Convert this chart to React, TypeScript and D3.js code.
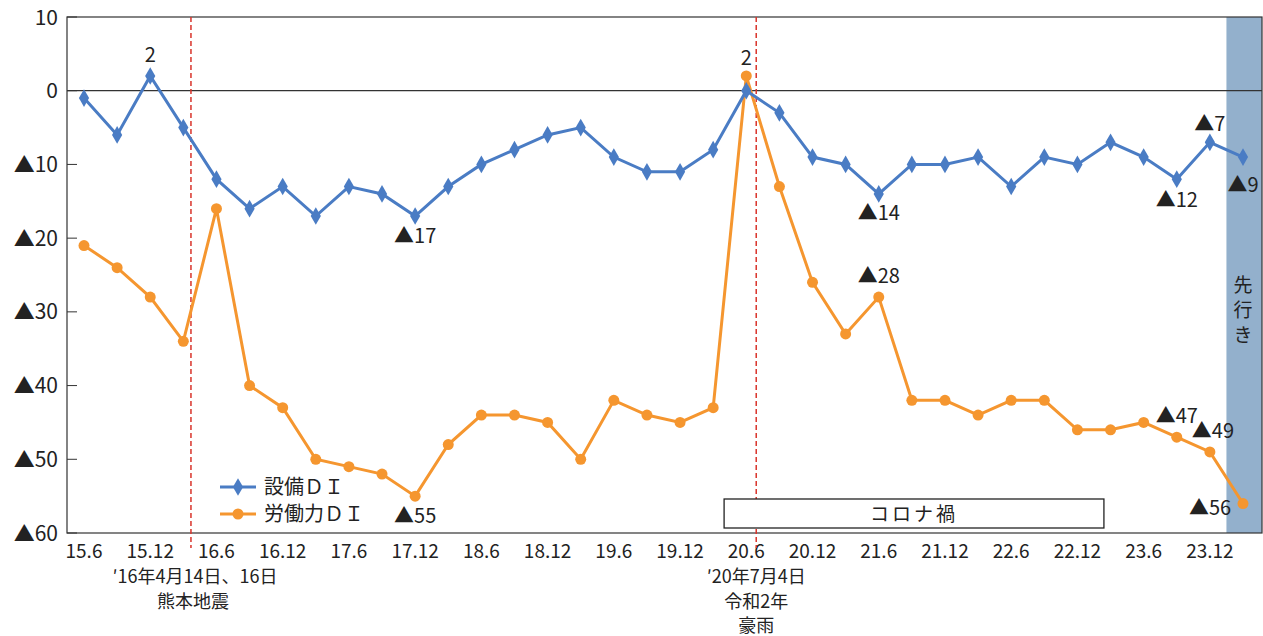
import * as d3 from 'd3'

const periods = [
    '15.6', '15.9', '15.12', '16.3', '16.6', '16.9', '16.12', '17.3', '17.6', '17.9', '17.12', '18.3',
    '18.6', '18.9', '18.12', '19.3', '19.6', '19.9', '19.12', '20.3', '20.6', '20.9', '20.12', '21.3',
    '21.6', '21.9', '21.12', '22.3', '22.6', '22.9', '22.12', '23.3', '23.6', '23.9', '23.12', '24.3',
]
const equipmentDI = [
    -1, -6, 2, -5, -12, -16, -13, -17, -13, -14, -17, -13,
    -10, -8, -6, -5, -9, -11, -11, -8, 0, -3, -9, -10,
    -14, -10, -10, -9, -13, -9, -10, -7, -9, -12, -7, -9,
]
const laborDI = [
    -21, -24, -28, -34, -16, -40, -43, -50, -51, -52, -55, -48,
    -44, -44, -45, -50, -42, -44, -45, -43, 2, -13, -26, -33,
    -28, -42, -42, -44, -42, -42, -46, -46, -45, -47, -49, -56,
]
const yTicks = [10, 0, -10, -20, -30, -40, -50, -60]
// annotations: [series, index, text, dx, dy]
const notes: [string, number, string, number, number][] = [
    ['eq', 2, '2', 0, -21],
    ['eq', 10, '▲17', 0, 20],
    ['eq', 20, '2', 0, -33],
    ['eq', 24, '▲14', 0, 19],
    ['eq', 33, '▲12', 0, 21],
    ['eq', 34, '▲7', 0, -19],
    ['eq', 35, '▲9', 0, 28],
    ['lab', 24, '▲28', 0, -21],
    ['lab', 10, '▲55', 0, 20],
    ['lab', 33, '▲47', 0, -21],
    ['lab', 34, '▲49', 3, -21],
    ['lab', 35, '▲56', -33, 4],
]

const BLUE = '#4a7cc4'
const ORANGE = '#f5962f'
const FONT = '"Noto Sans CJK JP", "Noto Sans", sans-serif'

const App = () => {
    const left = 67
    const right = 1262
    const top = 17
    const bottom = 533

    const x = d3.scaleLinear().domain([0, periods.length - 1]).range([84, 1243])
    const y = d3.scaleLinear().domain([-60, 10]).range([bottom, top])

    const line = d3.line<number>().x((_, i) => x(i)).y(d => y(d))
    const diamond = d3.symbol().type(d3.symbolDiamond).size(90)()

    const fmt = (v: number) => (v < 0 ? '▲' + Math.abs(v) : String(v))

    return (
        <svg width={1263} height={636} style={{ position: 'absolute', left: 0, top: 0, fontFamily: FONT }}>
            <rect x={0} y={0} width={1263} height={636} fill="#fff" />
            {/* forecast band */}
            <rect x={x(34.5)} y={top} width={right - x(34.5)} height={bottom - top} fill="#93b0cc" />
            {['先', '行', 'き'].map((c, i) => (
                <text key={c} x={x(35)} y={292 + i * 25} fontSize={19} fill="#222" textAnchor="middle">{c}</text>
            ))}
            {/* frame */}
            <rect x={left} y={top} width={right - left} height={bottom - top} fill="none" stroke="#333" strokeWidth={1.2} />
            <line x1={left} x2={right} y1={y(0)} y2={y(0)} stroke="#333" strokeWidth={1.2} />
            {yTicks.map(t => (
                <g key={t}>
                    <line x1={left} x2={left + 10} y1={y(t)} y2={y(t)} stroke="#333" />
                    <text x={58} y={y(t)} dy="0.36em" textAnchor="end" fontSize={21} fill="#222">{fmt(t)}</text>
                </g>
            ))}
            {periods.map((p, i) => i % 2 === 0 && (
                <text key={p} x={x(i)} y={558} textAnchor="middle" fontSize={19} fill="#222">{p}</text>
            ))}
            {/* event lines */}
            {[3.23, 20.3].map(v => (
                <line key={v} x1={x(v)} x2={x(v)} y1={top} y2={548} stroke="#d9342b" strokeWidth={1.5} strokeDasharray="5,3" />
            ))}
            <text x={x(3.23) + 4} y={583} textAnchor="middle" fontSize={18} fill="#222">′16年4月14日、16日</text>
            <text x={x(3.23) + 2} y={608} textAnchor="middle" fontSize={18} fill="#222">熊本地震</text>
            <text x={x(20) + 10} y={583} textAnchor="middle" fontSize={18} fill="#222">′20年7月4日</text>
            <text x={x(20) + 10} y={608} textAnchor="middle" fontSize={18} fill="#222">令和2年</text>
            <text x={x(20) + 10} y={632} textAnchor="middle" fontSize={18} fill="#222">豪雨</text>
            {/* corona box */}
            <rect x={x(19.33)} y={499} width={x(30.8) - x(19.33)} height={29} fill="#fff" stroke="#222" strokeWidth={1.3} />
            <text x={(x(19.33) + x(30.8)) / 2} y={514} dy="0.36em" textAnchor="middle" fontSize={19} fill="#222" letterSpacing={3}>コロナ禍</text>
            {/* series */}
            <path d={line(laborDI) || ''} fill="none" stroke={ORANGE} strokeWidth={3} />
            {laborDI.map((v, i) => (
                <circle key={i} cx={x(i)} cy={y(v)} r={5.5} fill={ORANGE} />
            ))}
            <path d={line(equipmentDI) || ''} fill="none" stroke={BLUE} strokeWidth={3} />
            {equipmentDI.map((v, i) => (
                <path key={i} d={diamond || ''} transform={`translate(${x(i)},${y(v)})`} fill={BLUE} />
            ))}
            {/* annotations */}
            {notes.map(([s, i, t, dx, dy], k) => {
                const v = s === 'eq' ? equipmentDI[i] : laborDI[i]
                return (
                    <text key={k} x={x(i) + dx} y={y(v) + dy} dy="0.36em" textAnchor="middle" fontSize={20} fill="#222">{t}</text>
                )
            })}
            {/* legend */}
            <line x1={220} x2={256} y1={487} y2={487} stroke={BLUE} strokeWidth={3} />
            <path d={diamond || ''} transform="translate(238,487)" fill={BLUE} />
            <text x={264} y={487} dy="0.36em" fontSize={20} fill="#222">設備ＤＩ</text>
            <line x1={220} x2={256} y1={514} y2={514} stroke={ORANGE} strokeWidth={3} />
            <circle cx={238} cy={514} r={5.5} fill={ORANGE} />
            <text x={264} y={514} dy="0.36em" fontSize={20} fill="#222">労働力ＤＩ</text>
        </svg>
    )
}

export default App
